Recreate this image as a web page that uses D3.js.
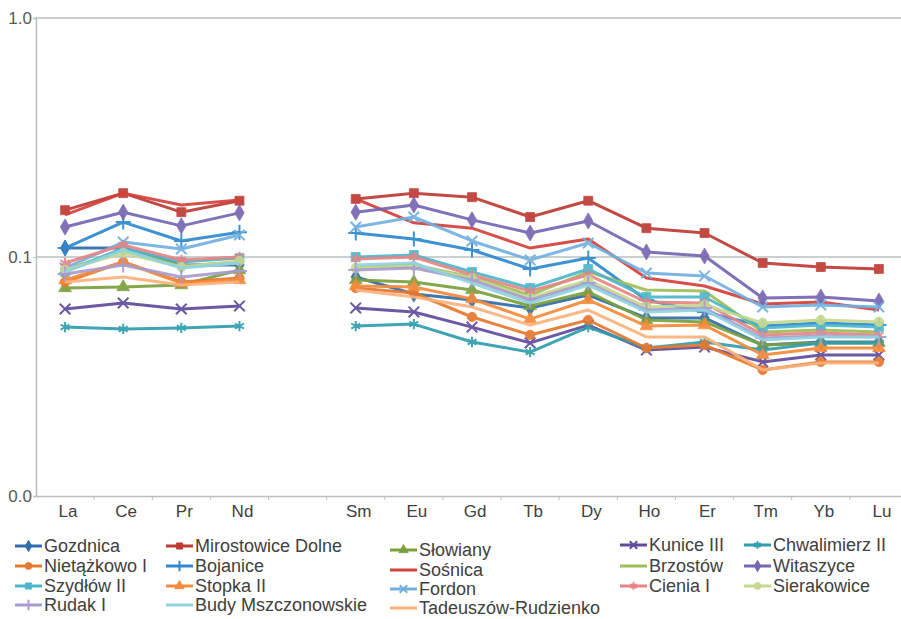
<!DOCTYPE html>
<html>
<head>
<meta charset="utf-8">
<script src="https://cdn.jsdelivr.net/npm/d3@7"></script>
<style>
  body { margin: 0; background: #fff; }
  svg { display: block; font-family: "Liberation Sans", Arial, sans-serif; }
</style>
</head>
<body>
<svg width="901" height="619"></svg>
<script>
// categories (empty slot = Pm, not measured)
var categories = ["La", "Ce", "Pr", "Nd", "", "Sm", "Eu", "Gd", "Tb", "Dy", "Ho", "Er", "Tm", "Yb", "Lu"];
var yTicks = [0.01, 0.1, 1];

// series values, chondrite normalised
var gozdnica      = [0.109, 0.109, 0.0926, 0.0926, null, 0.0825, 0.0700, 0.0661, 0.0612, 0.0693, 0.0556, 0.0556, 0.0428, 0.0441, 0.0441];
var mirostowice   = [0.157, 0.185, 0.154, 0.172, null, 0.175, 0.185, 0.178, 0.147, 0.172, 0.132, 0.126, 0.0944, 0.0908, 0.0891];
var slowiany      = [0.0742, 0.0749, 0.0763, 0.0882, null, 0.0801, 0.0786, 0.0728, 0.0624, 0.0714, 0.0545, 0.0535, 0.0428, 0.0437, 0.0437];
var kunice        = [0.0606, 0.0642, 0.0606, 0.0624, null, 0.0612, 0.0589, 0.0509, 0.0437, 0.0519, 0.0408, 0.0420, 0.0364, 0.0389, 0.0389];
var chwalimierz   = [0.0509, 0.0500, 0.0505, 0.0514, null, 0.0514, 0.0524, 0.0441, 0.0400, 0.0509, 0.0416, 0.0441, 0.0408, 0.0437, 0.0437];
var nietazkowo    = [0.0786, 0.0953, 0.0786, 0.0817, null, 0.0742, 0.0707, 0.0561, 0.0472, 0.0545, 0.0416, 0.0428, 0.0337, 0.0364, 0.0364];
var bojanice      = [0.109, 0.140, 0.1167, 0.127, null, 0.126, 0.119, 0.107, 0.0891, 0.099, 0.0661, 0.0589, 0.0514, 0.0530, 0.0519];
var sosnica       = [0.150, 0.185, 0.165, 0.173, null, 0.175, 0.139, 0.132, 0.109, 0.119, 0.0817, 0.0756, 0.0636, 0.0648, 0.0600];
var brzostow      = [0.0882, 0.107, 0.0917, 0.0953, null, 0.0908, 0.0926, 0.0825, 0.0693, 0.0866, 0.0728, 0.0720, 0.0486, 0.0495, 0.0486];
var witaszyce     = [0.1335, 0.154, 0.135, 0.153, null, 0.154, 0.165, 0.143, 0.126, 0.1415, 0.105, 0.101, 0.0674, 0.0680, 0.0654];
var szydlow       = [0.0866, 0.109, 0.0953, 0.099, null, 0.100, 0.102, 0.0866, 0.0742, 0.0891, 0.0680, 0.0680, 0.0505, 0.0519, 0.0509];
var stopka        = [0.0801, 0.0953, 0.0778, 0.0801, null, 0.0756, 0.0749, 0.0667, 0.0550, 0.0661, 0.0514, 0.0519, 0.0389, 0.0416, 0.0416];
var fordon        = [0.0899, 0.1155, 0.108, 0.1236, null, 0.1335, 0.147, 0.1167, 0.0972, 0.1144, 0.0857, 0.0833, 0.0618, 0.0630, 0.0618];
var cienia        = [0.0944, 0.1123, 0.0972, 0.100, null, 0.0981, 0.100, 0.0841, 0.0720, 0.0841, 0.0648, 0.0642, 0.0472, 0.0481, 0.0472];
var sierakowice   = [0.0882, 0.1039, 0.0908, 0.0962, null, 0.0899, 0.0917, 0.0817, 0.0674, 0.0801, 0.0618, 0.0630, 0.0530, 0.0545, 0.0535];
var rudak         = [0.0849, 0.0926, 0.0825, 0.0874, null, 0.0882, 0.0899, 0.0801, 0.0661, 0.0778, 0.0600, 0.0612, 0.0458, 0.0467, 0.0463];
var budy          = [0.0866, 0.107, 0.0899, 0.0944, null, 0.0926, 0.0944, 0.0778, 0.0642, 0.0763, 0.0589, 0.0600, 0.0450, 0.0463, 0.0463];
var tadeuszow     = [0.0786, 0.0825, 0.0763, 0.0786, null, 0.0728, 0.0680, 0.0618, 0.0519, 0.0600, 0.0463, 0.0463, 0.0337, 0.0360, 0.0360];

// name, values, colour, marker, legend column, legend row
var series = [
  ["Gozdnica", gozdnica, "#2f6dab", "diamond", 0, 0],
  ["Mirostowice Dolne", mirostowice, "#be3b35", "square", 1, 0],
  ["Słowiany", slowiany, "#7ba03c", "triangle", 2, 0],
  ["Kunice III", kunice, "#5f4b9c", "times", 3, 0],
  ["Chwalimierz II", chwalimierz, "#2f9dae", "asterisk", 4, 0],
  ["Nietążkowo I", nietazkowo, "#e6782e", "circle", 0, 1],
  ["Bojanice", bojanice, "#2f89cf", "plus", 1, 1],
  ["Sośnica", sosnica, "#d4403a", null, 2, 1],
  ["Brzostów", brzostow, "#9dbe56", null, 3, 1],
  ["Witaszyce", witaszyce, "#7665b2", "diamond", 4, 1],
  ["Szydłów II", szydlow, "#4db7ca", "square", 0, 2],
  ["Stopka II", stopka, "#f68a3a", "triangle", 1, 2],
  ["Fordon", fordon, "#72b0e0", "times", 2, 2],
  ["Cienia I", cienia, "#e98484", "asterisk", 3, 2],
  ["Sierakowice", sierakowice, "#c5d88e", "circle", 4, 2],
  ["Rudak I", rudak, "#a89cd0", "plus", 0, 3],
  ["Budy Mszczonowskie", budy, "#8fd2de", null, 1, 3],
  ["Tadeuszów-Rudzienko", tadeuszow, "#fbb17b", null, 2, 3]
];

var svg = d3.select("svg");
var plotLeft = 36, plotRight = 908, plotTop = 18, plotBottom = 496;

var x = d3.scaleBand().domain(categories).range([plotLeft, plotRight]).padding(0);
var y = d3.scaleLog().domain([0.01, 1]).range([plotBottom, plotTop]);
var cx = function(c) { return x(c) + x.bandwidth() / 2; };

var symbols = {
  diamond: [d3.symbolDiamond, 75, true],
  square: [d3.symbolSquare, 80, true],
  triangle: [d3.symbolTriangle, 70, true],
  circle: [d3.symbolCircle, 70, true],
  times: [d3.symbolTimes, 75, false],
  plus: [d3.symbolPlus, 75, false],
  asterisk: [d3.symbolAsterisk, 75, false]
};

// gridlines
svg.append("g").selectAll("line")
  .data(yTicks.slice(1))
  .enter().append("line")
  .attr("x1", plotLeft).attr("x2", 901)
  .attr("y1", function(d) { return y(d); })
  .attr("y2", function(d) { return y(d); })
  .attr("stroke", "#b9bfbf").attr("stroke-width", 1.5);

// y axis
var yaxis = svg.append("g")
  .attr("transform", "translate(" + plotLeft + ",0)")
  .call(d3.axisLeft(y).tickValues(yTicks).tickFormat(d3.format(".1f")).tickSize(3));
yaxis.select(".domain").attr("stroke", "#b9bfbf").attr("stroke-width", 1.5);
yaxis.selectAll(".tick line").attr("stroke", "#b9bfbf");
yaxis.selectAll("text").attr("font-size", "17px").attr("fill", "#595959")
  .attr("font-family", "Liberation Sans, Arial, sans-serif").attr("dx", "2");

// x axis
var xaxis = svg.append("g")
  .attr("transform", "translate(0," + plotBottom + ")")
  .call(d3.axisBottom(x).tickSize(0).tickPadding(9));
xaxis.select(".domain").attr("stroke", "#b9bfbf").attr("stroke-width", 1.5);
xaxis.selectAll("text").attr("font-size", "17px").attr("fill", "#404040")
  .attr("font-family", "Liberation Sans, Arial, sans-serif").attr("dx", "3");
xaxis.selectAll(".tickmark")
  .data(categories.slice(1))
  .enter().append("line")
  .attr("class", "tickmark")
  .attr("x1", function(c) { return x(c); }).attr("x2", function(c) { return x(c); })
  .attr("y1", 0).attr("y2", 4)
  .attr("stroke", "#b9bfbf");

// lines
var line = d3.line()
  .defined(function(d) { return d.v != null; })
  .x(function(d) { return cx(d.c); })
  .y(function(d) { return y(d.v); });

function drawMarker(g, kind, color, size) {
  var s = symbols[kind];
  var p = g.append("path").attr("d", d3.symbol().type(s[0]).size(size || s[1])());
  if (s[2]) p.attr("fill", color).attr("stroke", color).attr("stroke-width", 0.8);
  else p.attr("fill", "none").attr("stroke", color).attr("stroke-width", 2);
  return p;
}

var plot = svg.append("g");
series.forEach(function(s) {
  var pts = categories.map(function(c, i) { return {c: c, v: s[1][i]}; });
  var g = plot.append("g").attr("opacity", 0.92);
  g.append("path")
    .datum(pts)
    .attr("d", line)
    .attr("fill", "none")
    .attr("stroke", s[2])
    .attr("stroke-width", 3)
    .attr("stroke-linejoin", "round");
  if (s[3]) {
    pts.filter(function(d) { return d.v != null; }).forEach(function(d) {
      drawMarker(g.append("g").attr("transform", "translate(" + cx(d.c) + "," + y(d.v) + ")"), s[3], s[2]);
    });
  }
});

// legend
var colX = [15, 166, 390, 620, 744];
var rowY = [[546, 566, 586, 605], [546, 566, 586, 605], [550, 570, 589, 608], [545, 566, 586, 605], [545, 566, 586, 605]];
var legend = svg.append("g");
series.forEach(function(s) {
  var lx = colX[s[4]], ly = rowY[s[4]][s[5]];
  var item = legend.append("g").attr("transform", "translate(" + lx + "," + ly + ")");
  item.append("line").attr("x1", 0).attr("x2", 27).attr("y1", 0).attr("y2", 0)
    .attr("stroke", s[2]).attr("stroke-width", 3);
  if (s[3]) drawMarker(item.append("g").attr("transform", "translate(13.5,0)"), s[3], s[2], 38);
  item.append("text").attr("x", 29).attr("y", 0).attr("dy", "0.35em")
    .attr("font-size", "18px").attr("fill", "#404040").text(s[0]);
});
</script>
</body>
</html>
